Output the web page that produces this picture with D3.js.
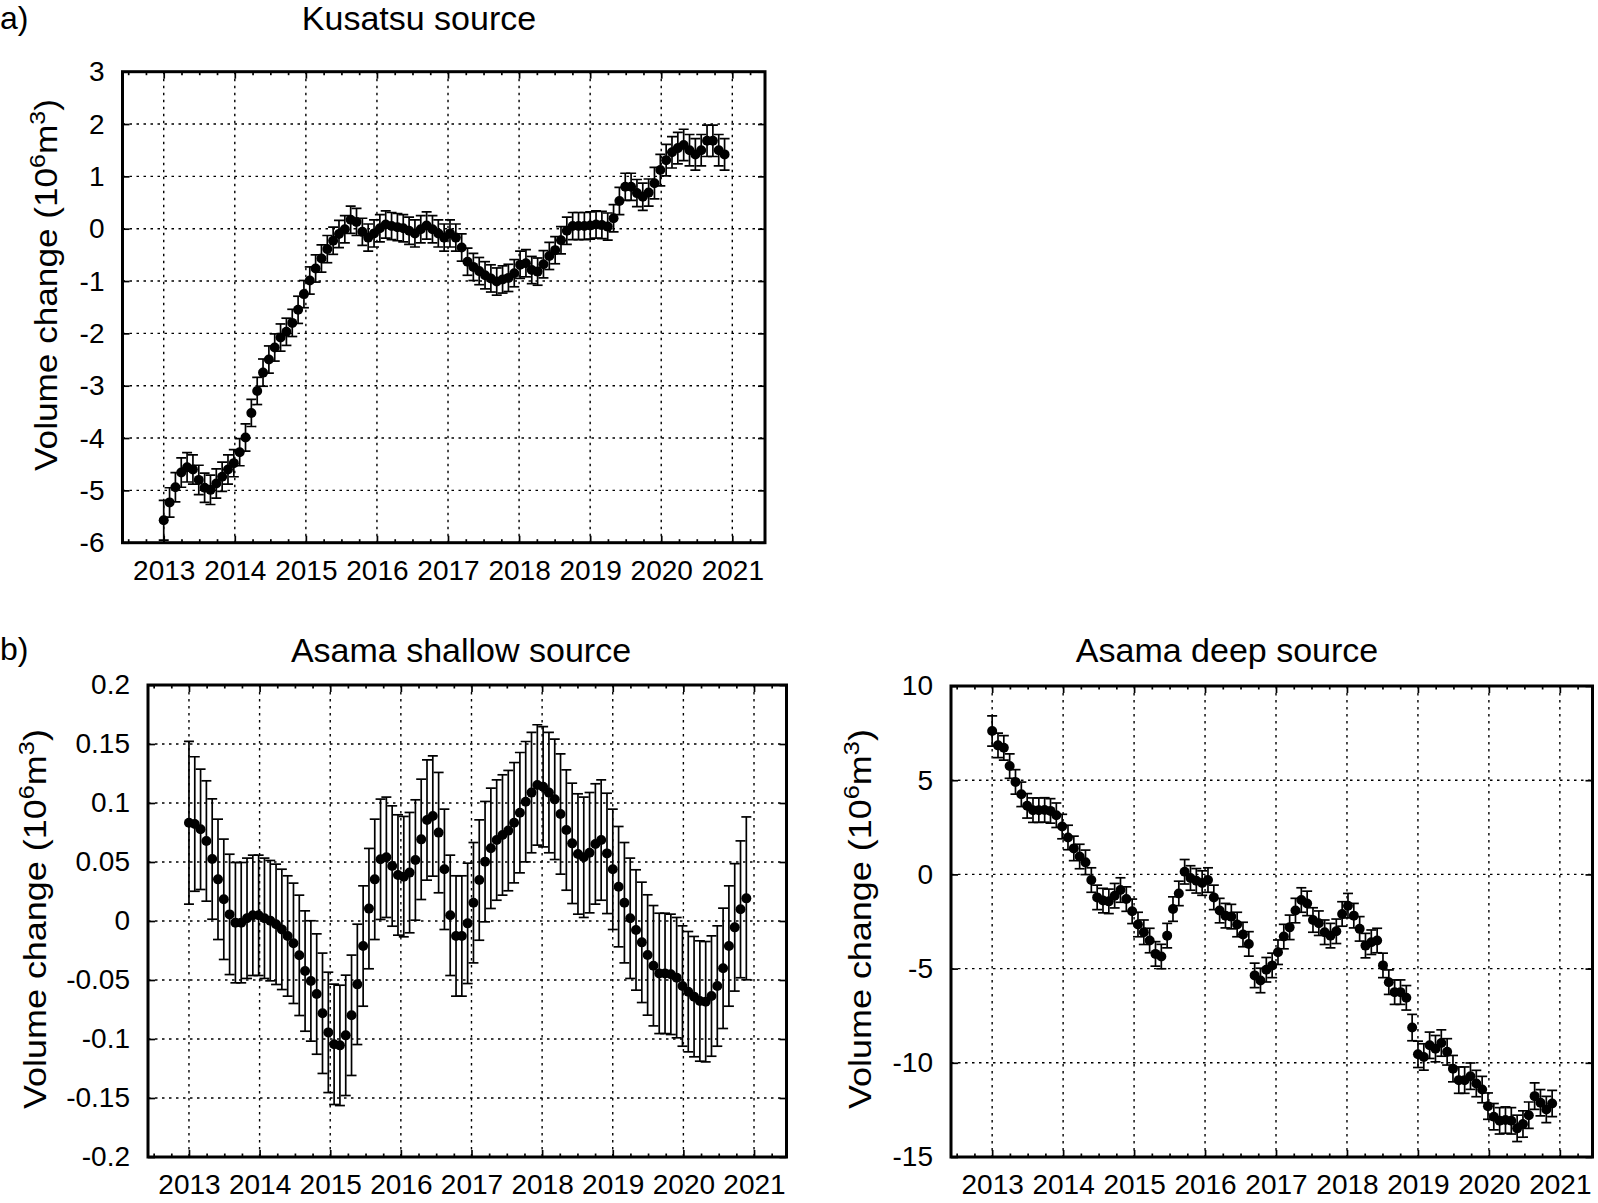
<!DOCTYPE html>
<html><head><meta charset="utf-8">
<script src="https://cdn.jsdelivr.net/npm/d3@7"></script>
<style>
body{margin:0;background:#fff;}
svg text{font-family:"Liberation Sans",Arial,Helvetica,sans-serif;fill:#000;}
</style></head><body>
<svg id="chart" width="1598" height="1203"></svg>
<script>
// ---------------- data ----------------
const years = [2013, 2014, 2015, 2016, 2017, 2018, 2019, 2020, 2021];
const yearLabels = ["2013", "2014", "2015", "2016", "2017", "2018", "2019", "2020", "2021"];
const startYear = 2013.0;        // first epoch
const stepYear = 0.0822;         // ~30-day sampling
const nEpochs = 97;

const kusatsuTicks = [3, 2, 1, 0, -1, -2, -3, -4, -5, -6];
const kusatsuTickLabels = ["3", "2", "1", "0", "-1", "-2", "-3", "-4", "-5", "-6"];
const shallowTicks = [0.2, 0.15, 0.1, 0.05, 0, -0.05, -0.1, -0.15, -0.2];
const shallowTickLabels = ["0.2", "0.15", "0.1", "0.05", "0", "-0.05", "-0.1", "-0.15", "-0.2"];
const deepTicks = [10, 5, 0, -5, -10, -15];
const deepTickLabels = ["10", "5", "0", "-5", "-10", "-15"];

const kusatsu = [-5.57,-5.23,-4.94,-4.66,-4.56,-4.60,-4.80,-4.95,-4.99,-4.87,-4.74,-4.60,
 -4.48,-4.27,-3.99,-3.52,-3.10,-2.75,-2.50,-2.27,-2.08,-1.97,-1.80,-1.55,
 -1.25,-0.99,-0.76,-0.57,-0.39,-0.23,-0.10,-0.01,0.17,0.13,-0.06,-0.17,
 -0.09,0.01,0.08,0.05,0.03,0.01,-0.04,-0.09,-0.01,0.06,-0.01,-0.09,
 -0.17,-0.09,-0.17,-0.36,-0.63,-0.73,-0.81,-0.89,-0.95,-1.01,-0.97,-0.94,
 -0.85,-0.69,-0.66,-0.79,-0.82,-0.68,-0.52,-0.41,-0.22,-0.04,0.05,0.05,
 0.05,0.06,0.08,0.07,0.04,0.20,0.53,0.80,0.80,0.68,0.61,0.69,
 0.87,1.12,1.31,1.46,1.54,1.60,1.50,1.42,1.50,1.68,1.68,1.50,
 1.42];
const kusatsuErr = [0.38,0.28,0.28,0.28,0.28,0.28,0.28,0.28,0.28,0.28,0.28,0.28,
 0.26,0.26,0.26,0.26,0.26,0.26,0.26,0.26,0.26,0.26,0.26,0.26,
 0.26,0.26,0.26,0.26,0.26,0.26,0.26,0.26,0.26,0.26,0.26,0.26,
 0.26,0.26,0.26,0.26,0.26,0.26,0.26,0.26,0.26,0.26,0.26,0.26,
 0.26,0.26,0.26,0.26,0.26,0.26,0.26,0.26,0.26,0.26,0.26,0.26,
 0.26,0.26,0.26,0.26,0.26,0.26,0.26,0.26,0.26,0.26,0.26,0.26,
 0.26,0.26,0.26,0.26,0.26,0.26,0.26,0.26,0.26,0.26,0.26,0.26,
 0.30,0.30,0.30,0.30,0.30,0.30,0.30,0.30,0.30,0.30,0.30,0.30,
 0.30];

const shallow = [0.0833,0.0822,0.0777,0.0678,0.0525,0.0353,0.0184,0.0056,-0.0014,-0.0014,0.0023,0.0048,
 0.0048,0.0023,0.0003,-0.0028,-0.0071,-0.0127,-0.0189,-0.0291,-0.0424,-0.0508,-0.0619,-0.0782,
 -0.0944,-0.1045,-0.1054,-0.0969,-0.0799,-0.0537,-0.0212,0.0105,0.0353,0.0523,0.0540,0.0466,
 0.0390,0.0376,0.0410,0.0517,0.0692,0.0856,0.0890,0.0749,0.0438,0.0048,-0.0127,-0.0127,
 -0.0020,0.0155,0.0347,0.0503,0.0616,0.0686,0.0729,0.0766,0.0833,0.0918,0.1011,0.1088,
 0.1153,0.1138,0.1088,0.1031,0.0907,0.0771,0.0658,0.0568,0.0540,0.0579,0.0653,0.0686,
 0.0573,0.0438,0.0291,0.0155,0.0023,-0.0076,-0.0181,-0.0288,-0.0379,-0.0444,-0.0444,-0.0452,
 -0.0480,-0.0551,-0.0599,-0.0641,-0.0678,-0.0684,-0.0636,-0.0551,-0.0401,-0.0212,-0.0054,0.0099,
 0.0192];
const shallowErr = [0.069,0.057,0.051,0.051,0.051,0.051,0.051,0.051,0.051,0.051,0.051,0.051,
 0.051,0.051,0.051,0.051,0.051,0.051,0.051,0.051,0.051,0.051,0.051,0.051,
 0.051,0.051,0.051,0.051,0.051,0.051,0.051,0.051,0.051,0.051,0.051,0.051,
 0.051,0.051,0.051,0.051,0.051,0.051,0.051,0.051,0.051,0.051,0.051,0.051,
 0.051,0.051,0.051,0.051,0.051,0.051,0.051,0.051,0.051,0.051,0.051,0.051,
 0.051,0.051,0.051,0.051,0.051,0.051,0.051,0.051,0.051,0.051,0.051,0.051,
 0.051,0.051,0.051,0.051,0.051,0.051,0.051,0.051,0.051,0.051,0.051,0.051,
 0.051,0.051,0.051,0.051,0.051,0.051,0.051,0.051,0.051,0.051,0.054,0.058,
 0.069];

const deep = [7.61,6.85,6.72,5.75,4.91,4.25,3.64,3.41,3.41,3.42,3.37,3.14,
 2.54,1.96,1.38,0.95,0.64,-0.30,-1.22,-1.39,-1.43,-1.13,-0.83,-1.31,
 -1.96,-2.66,-3.07,-3.51,-4.22,-4.36,-3.25,-1.84,-1.01,0.14,-0.19,-0.34,
 -0.46,-0.30,-1.22,-1.92,-2.19,-2.24,-2.66,-3.19,-3.69,-5.36,-5.63,-5.06,
 -4.83,-4.13,-3.30,-2.81,-1.92,-1.36,-1.54,-2.42,-2.59,-3.07,-3.25,-3.02,
 -2.10,-1.66,-2.19,-2.89,-3.78,-3.60,-3.51,-4.83,-5.72,-6.25,-6.25,-6.55,
 -8.13,-9.55,-9.69,-9.07,-9.25,-8.95,-9.42,-10.31,-10.92,-10.92,-10.71,-11.10,
 -11.42,-12.30,-12.86,-13.08,-13.04,-13.08,-13.48,-13.25,-12.78,-11.77,-12.12,-12.48,
 -12.16];
const deepErr = [0.80,0.65,0.65,0.65,0.65,0.65,0.65,0.65,0.65,0.65,0.65,0.65,
 0.65,0.65,0.65,0.65,0.65,0.65,0.65,0.65,0.65,0.65,0.65,0.65,
 0.65,0.65,0.65,0.65,0.65,0.65,0.65,0.65,0.65,0.65,0.65,0.65,
 0.65,0.65,0.65,0.65,0.65,0.65,0.65,0.65,0.65,0.65,0.65,0.65,
 0.65,0.65,0.65,0.65,0.65,0.65,0.65,0.65,0.65,0.65,0.65,0.65,
 0.65,0.65,0.65,0.65,0.65,0.65,0.65,0.65,0.65,0.65,0.65,0.65,
 0.70,0.70,0.70,0.70,0.70,0.70,0.70,0.70,0.70,0.70,0.70,0.70,
 0.70,0.70,0.70,0.70,0.70,0.70,0.70,0.70,0.70,0.70,0.70,0.70,
 0.70];

// ---------------- drawing ----------------
const times = d3.range(nEpochs).map(i => startYear + i * stepYear);
const quarterTicks = d3.range(2012.5, 2021.46, 0.25).filter(q => Math.abs(q - Math.round(q)) > 0.01);
const xDomain = [2012.42, 2021.46];
const svg = d3.select("#chart");

function styleAxis(sel, fontSize) {
  sel.attr("font-family", null).attr("font-size", null);
  sel.select(".domain").remove();
  sel.selectAll(".tick line").attr("stroke", "#000").attr("stroke-width", 1.7);
  sel.selectAll(".tick text").style("font-size", fontSize + "px").attr("fill", "#000");
}

function panel(cfg) {
  const x = d3.scaleLinear().domain(xDomain).range([cfg.left, cfg.right]);
  const y = d3.scaleLinear().domain(cfg.yDomain).range([cfg.bottom, cfg.top]);
  const g = svg.append("g");

  const clipId = "clip-" + cfg.id;
  svg.append("clipPath").attr("id", clipId).append("rect")
    .attr("x", cfg.left).attr("y", cfg.top)
    .attr("width", cfg.right - cfg.left).attr("height", cfg.bottom - cfg.top);

  // grid
  const grid = g.append("g").attr("stroke", "#000").attr("stroke-width", 1.4).attr("stroke-dasharray", "2.5,4.5");
  grid.selectAll("line.v").data(years).join("line").attr("class", "v")
    .attr("x1", d => x(d)).attr("x2", d => x(d)).attr("y1", cfg.top).attr("y2", cfg.bottom);
  grid.selectAll("line.h").data(cfg.yTicks.filter(t => t !== cfg.yDomain[0] && t !== cfg.yDomain[1])).join("line").attr("class", "h")
    .attr("x1", cfg.left).attr("x2", cfg.right).attr("y1", d => y(d)).attr("y2", d => y(d));

  // axes
  g.append("g").attr("transform", `translate(0,${cfg.bottom})`)
    .call(d3.axisBottom(x).tickValues(years).tickSize(-7).tickPadding(17).tickFormat((d, i) => yearLabels[i]))
    .call(s => styleAxis(s, 28));
  g.append("g").attr("transform", `translate(0,${cfg.bottom})`)
    .call(d3.axisBottom(x).tickValues(quarterTicks).tickSize(-3.5).tickFormat(""))
    .call(s => styleAxis(s, 28));
  g.append("g").attr("transform", `translate(0,${cfg.top})`)
    .call(d3.axisTop(x).tickValues(years).tickSize(-7).tickFormat(""))
    .call(s => styleAxis(s, 28));
  g.append("g").attr("transform", `translate(0,${cfg.top})`)
    .call(d3.axisTop(x).tickValues(quarterTicks).tickSize(-3.5).tickFormat(""))
    .call(s => styleAxis(s, 28));
  g.append("g").attr("transform", `translate(${cfg.left},0)`)
    .call(d3.axisLeft(y).tickValues(cfg.yTicks).tickSize(-7).tickPadding(18).tickFormat((d, i) => cfg.yLabels[i]))
    .call(s => styleAxis(s, 28));
  g.append("g").attr("transform", `translate(${cfg.right},0)`)
    .call(d3.axisRight(y).tickValues(cfg.yTicks).tickSize(-7).tickFormat(""))
    .call(s => styleAxis(s, 28));

  // error bars + points
  const pts = cfg.values.map((v, i) => ({t: times[i], v: v, e: cfg.errs[i]}));
  const marks = g.append("g").attr("clip-path", `url(#${clipId})`);
  const eb = marks.append("g").attr("stroke", "#000").attr("stroke-width", 1.7);
  const cap = 5;
  eb.selectAll("line.bar").data(pts).join("line").attr("class", "bar")
    .attr("x1", d => x(d.t)).attr("x2", d => x(d.t))
    .attr("y1", d => y(d.v - d.e)).attr("y2", d => y(d.v + d.e));
  eb.selectAll("line.capt").data(pts).join("line").attr("class", "capt")
    .attr("x1", d => x(d.t) - cap).attr("x2", d => x(d.t) + cap)
    .attr("y1", d => y(d.v + d.e)).attr("y2", d => y(d.v + d.e));
  eb.selectAll("line.capb").data(pts).join("line").attr("class", "capb")
    .attr("x1", d => x(d.t) - cap).attr("x2", d => x(d.t) + cap)
    .attr("y1", d => y(d.v - d.e)).attr("y2", d => y(d.v - d.e));
  marks.append("g").selectAll("circle").data(pts).join("circle")
    .attr("cx", d => x(d.t)).attr("cy", d => y(d.v)).attr("r", 5).attr("fill", "#000");

  // frame
  g.append("rect").attr("x", cfg.left).attr("y", cfg.top)
    .attr("width", cfg.right - cfg.left).attr("height", cfg.bottom - cfg.top)
    .attr("fill", "none").attr("stroke", "#000").attr("stroke-width", 3);

  // title
  g.append("text").attr("x", cfg.titleX).attr("y", cfg.titleY).attr("text-anchor", "middle")
    .style("font-size", "34px").text(cfg.title);

  // y label
  const lab = g.append("text").attr("text-anchor", "middle").style("font-size", "31px");
  lab.append("tspan").text("Volume change (10");
  lab.append("tspan").attr("dy", -12).style("font-size", "22px").text("6");
  lab.append("tspan").attr("dy", 12).text("m");
  lab.append("tspan").attr("dy", -12).style("font-size", "22px").text("3");
  lab.append("tspan").attr("dy", 12).text(")");
  const w = lab.node().getBBox().width;
  const sx = cfg.labelLen / w;
  lab.attr("transform", `translate(${cfg.labelX},${cfg.labelY}) rotate(-90) scale(${sx},1)`);
}

panel({id: "a", left: 122.5, right: 765, top: 71.7, bottom: 542.7, yDomain: [-6, 3],
  yTicks: kusatsuTicks, yLabels: kusatsuTickLabels, values: kusatsu, errs: kusatsuErr,
  title: "Kusatsu source", titleX: 419, titleY: 30, labelX: 57, labelY: 285, labelLen: 372});
panel({id: "bs", left: 148, right: 786.5, top: 685, bottom: 1157, yDomain: [-0.2, 0.2],
  yTicks: shallowTicks, yLabels: shallowTickLabels, values: shallow, errs: shallowErr,
  title: "Asama shallow source", titleX: 461, titleY: 662, labelX: 46, labelY: 919, labelLen: 380});
panel({id: "bd", left: 951, right: 1592.5, top: 686, bottom: 1157, yDomain: [-15, 10],
  yTicks: deepTicks, yLabels: deepTickLabels, values: deep, errs: deepErr,
  title: "Asama deep source", titleX: 1227, titleY: 662, labelX: 871, labelY: 919, labelLen: 380});

svg.append("text").attr("x", 0).attr("y", 29).style("font-size", "32px").text("a)");
svg.append("text").attr("x", 0).attr("y", 660).style("font-size", "32px").text("b)");
</script>
</body></html>
